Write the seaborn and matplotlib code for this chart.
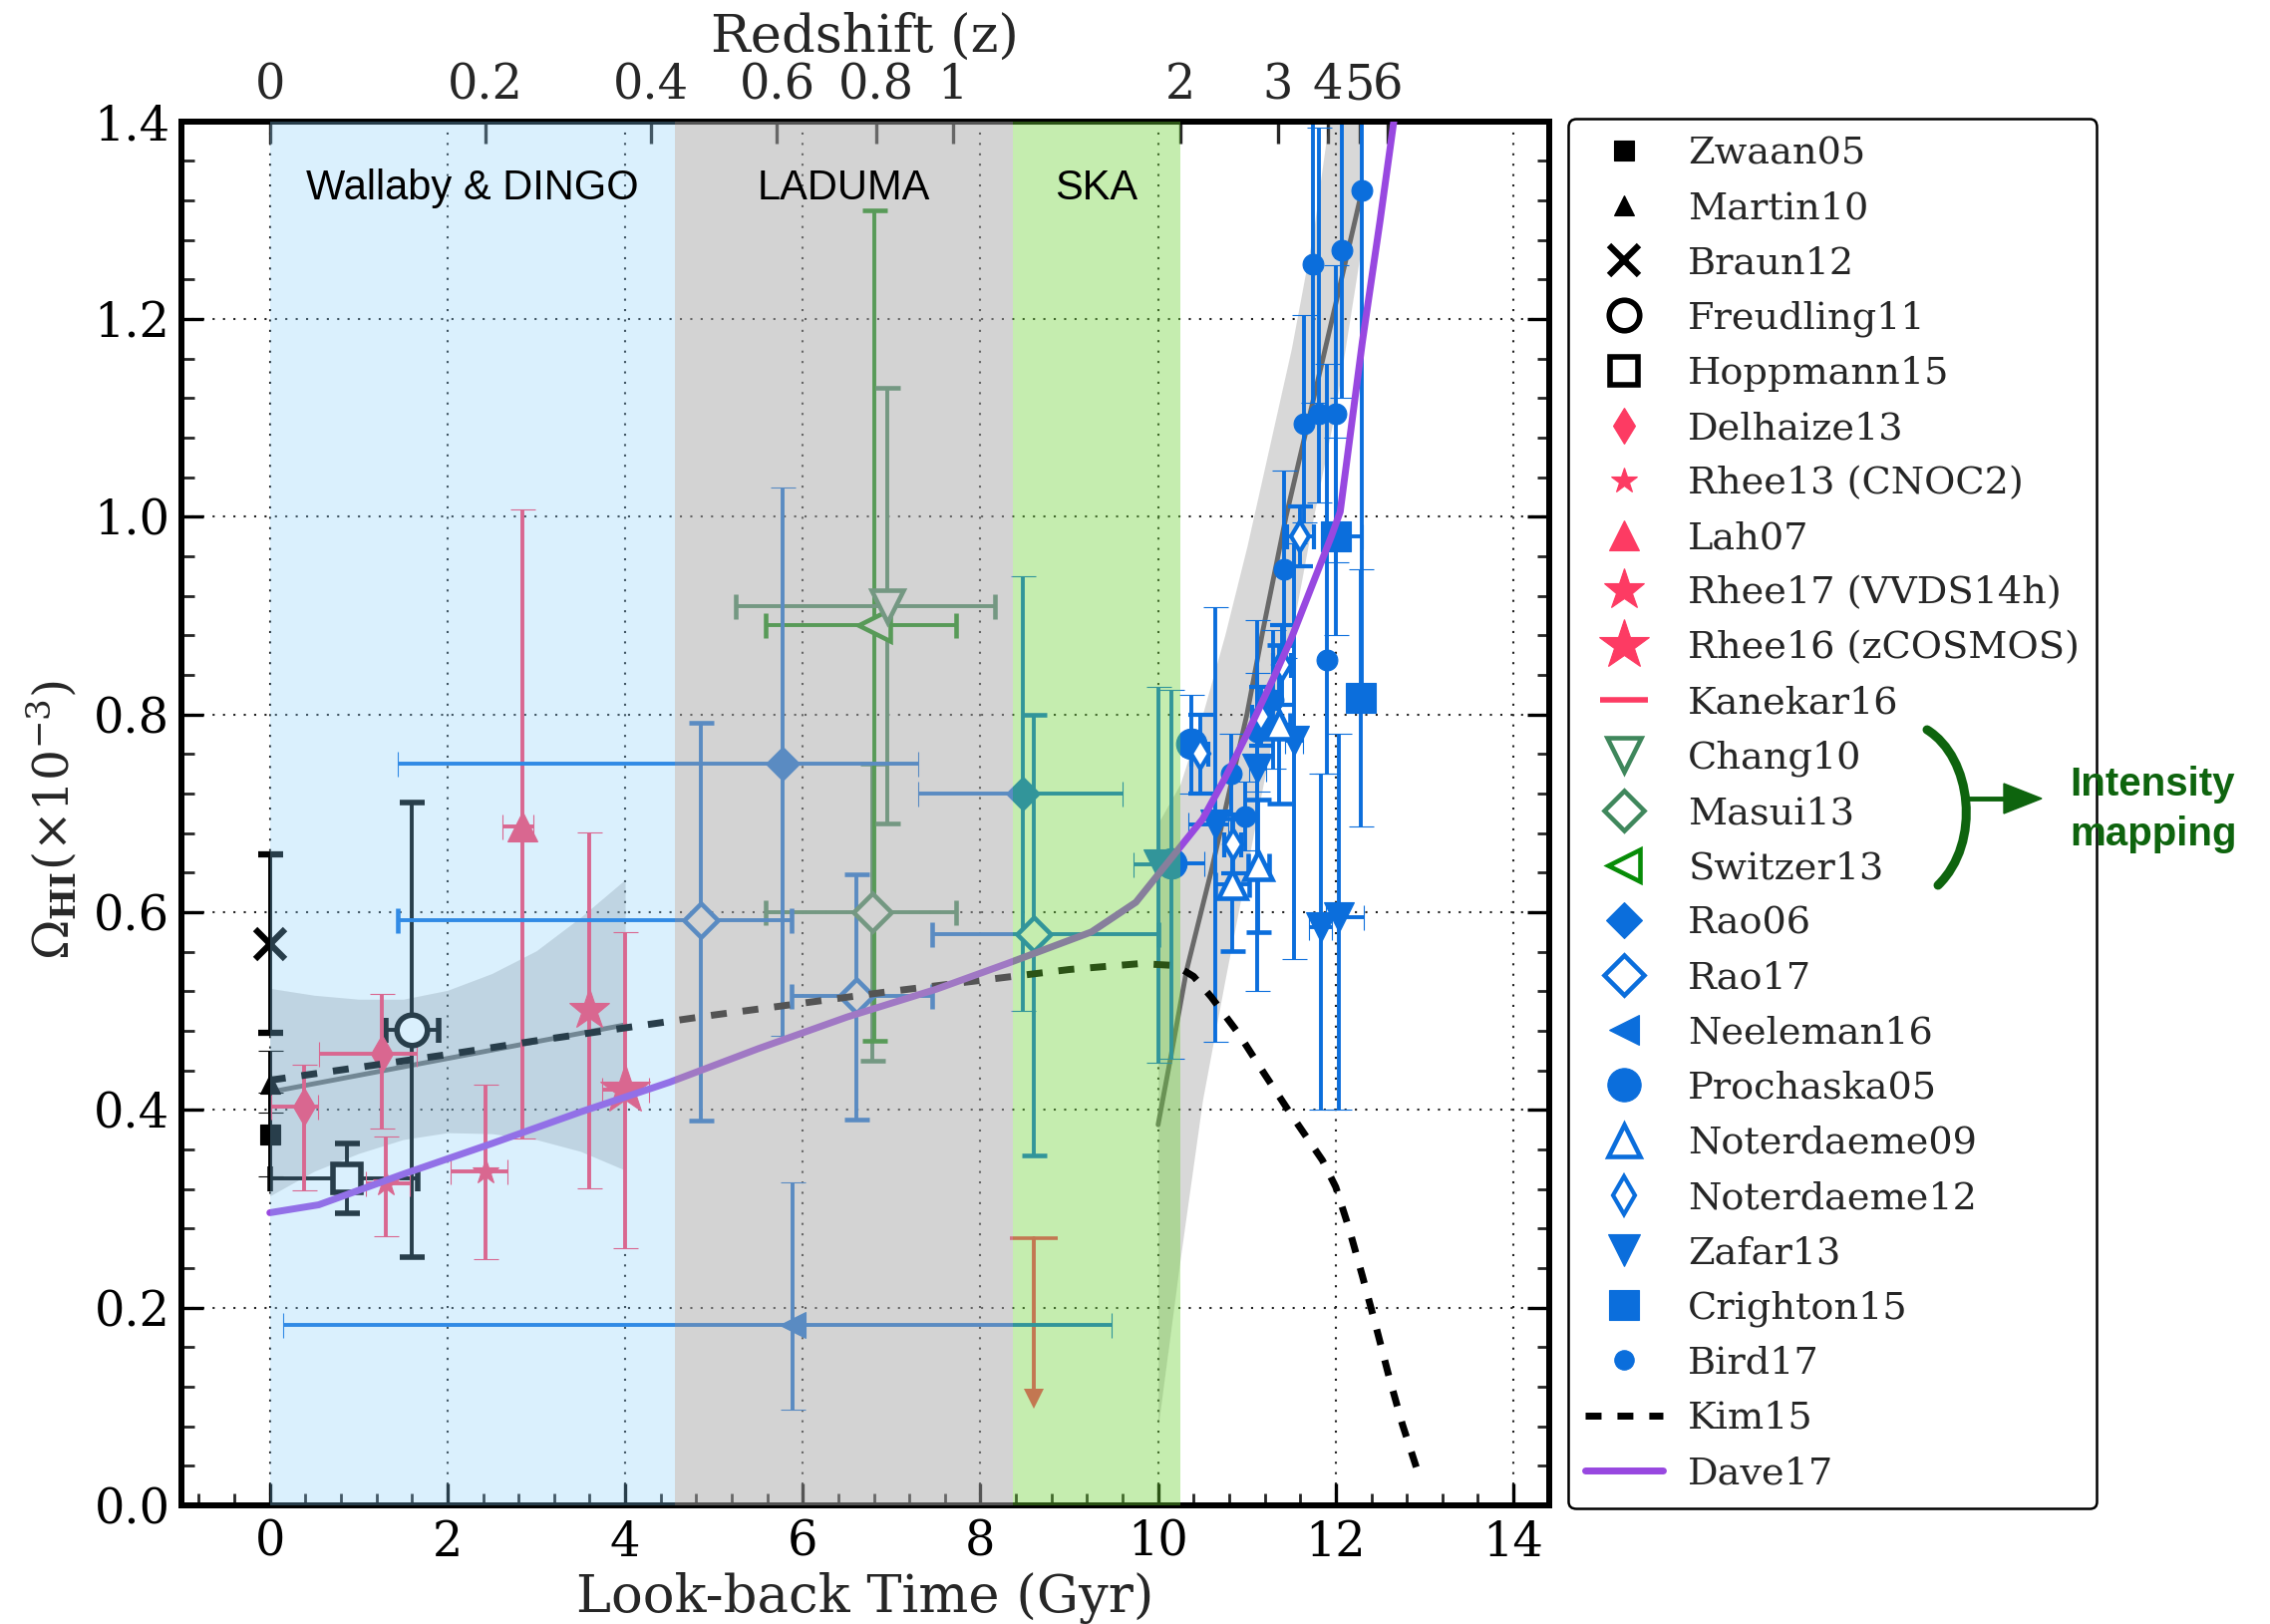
import numpy as np
import pandas as pd
import matplotlib
matplotlib.use("Agg")
import matplotlib.pyplot as plt
import seaborn as sns
from matplotlib.lines import Line2D
from matplotlib.path import Path
from matplotlib.patches import PathPatch, Polygon
from matplotlib.ticker import MultipleLocator, FixedLocator, FixedFormatter, NullLocator, FormatStrFormatter

# ---------------- data (look-back time in Gyr, Omega_HI in 1e-3) ----------------
z_tick_labels = ['0', '0.2', '0.4', '0.6', '0.8', '1', '2', '3', '4', '5', '6']
z_tick_gyr = [0.0, 2.43, 4.29, 5.71, 6.83, 7.69, 10.245, 11.35, 11.91, 12.27, 12.58]

survey_labels = ['Wallaby & DINGO', 'LADUMA', 'SKA']
survey_lo = [0.0, 4.56, 8.365]
survey_hi = [4.56, 8.365, 10.245]

zwaan05_x = [0.0]; zwaan05_y = [0.375]; zwaan05_ylo = [0.042]; zwaan05_yhi = [0.042]
martin10_x = [0.0]; martin10_y = [0.427]; martin10_ylo = [0.03]; martin10_yhi = [0.033]
braun12_x = [0.0]; braun12_y = [0.568]; braun12_ylo = [0.09]; braun12_yhi = [0.09]
freudling11_x = [1.6]; freudling11_y = [0.481]; freudling11_ylo = [0.23]; freudling11_yhi = [0.23]
freudling11_xlo = [0.3]; freudling11_xhi = [0.3]
hoppmann15_x = [0.87]; hoppmann15_y = [0.331]; hoppmann15_ylo = [0.036]; hoppmann15_yhi = [0.035]
hoppmann15_xlo = [0.87]; hoppmann15_xhi = [0.8]
delhaize13_x = [0.385, 1.264]; delhaize13_y = [0.403, 0.457]
delhaize13_ylo = [0.084, 0.076]; delhaize13_yhi = [0.043, 0.06]
delhaize13_xlo = [0.375, 0.71]; delhaize13_xhi = [0.155, 0.39]
rhee13_x = [1.30, 2.43]; rhee13_y = [0.326, 0.338]
rhee13_ylo = [0.054, 0.089]; rhee13_yhi = [0.047, 0.088]
rhee13_xlo = [0.22, 0.39]; rhee13_xhi = [0.28, 0.25]
lah07_x = [2.84]; lah07_y = [0.687]; lah07_ylo = [0.316]; lah07_yhi = [0.32]
lah07_xlo = [0.22]; lah07_xhi = [0.13]
rhee17_x = [3.6]; rhee17_y = [0.501]; rhee17_ylo = [0.18]; rhee17_yhi = [0.18]
rhee16_x = [4.0]; rhee16_y = [0.42]; rhee16_ylo = [0.16]; rhee16_yhi = [0.16]
rhee16_xlo = [0.26]; rhee16_xhi = [0.27]
kanekar16_x = [8.6]; kanekar16_ylim = [0.27]; kanekar16_yarrow = [0.10]

chang10_x = [6.95]; chang10_y = [0.91]; chang10_ylo = [0.22]; chang10_yhi = [0.22]
chang10_xlo = [1.7]; chang10_xhi = [1.21]
masui13_x = [6.78]; masui13_y = [0.60]; masui13_ylo = [0.15]; masui13_yhi = [0.15]
masui13_xlo = [1.2]; masui13_xhi = [0.94]
switzer13_x = [6.8]; switzer13_y = [0.89]; switzer13_ylo = [0.42]; switzer13_yhi = [0.42]
switzer13_xlo = [1.22]; switzer13_xhi = [0.92]

rao06_x = [5.77, 8.48]; rao06_y = [0.75, 0.72]
rao06_ylo = [0.275, 0.22]; rao06_yhi = [0.28, 0.22]
rao06_xlo = [4.33, 1.18]; rao06_xhi = [1.53, 1.12]
rao17_x = [4.85, 6.6, 8.6]; rao17_y = [0.592, 0.515, 0.578]
rao17_ylo = [0.203, 0.125, 0.224]; rao17_yhi = [0.2, 0.123, 0.222]
rao17_xlo = [3.41, 0.73, 1.14]; rao17_xhi = [1.02, 0.86, 1.4]
neeleman16_x = [5.89]; neeleman16_y = [0.183]; neeleman16_ylo = [0.086]; neeleman16_yhi = [0.144]
neeleman16_xlo = [5.74]; neeleman16_xhi = [3.59]

prochaska05_x = [10.15, 10.37]; prochaska05_y = [0.649, 0.77]
prochaska05_ylo = [0.197, 0.05]; prochaska05_yhi = [0.176, 0.05]
prochaska05_xlo = [0.15, 0.1]; prochaska05_xhi = [0.37, 0.1]
noterdaeme09_x = [10.83, 11.13, 11.36]; noterdaeme09_y = [0.628, 0.647, 0.79]
noterdaeme09_ylo = [0.067, 0.067, 0.08]; noterdaeme09_yhi = [0.067, 0.067, 0.08]
noterdaeme09_xlo = [0.19, 0.12, 0.12]; noterdaeme09_xhi = [0.19, 0.12, 0.12]
noterdaeme12_x = [10.47, 10.84, 11.16, 11.4, 11.6]; noterdaeme12_y = [0.76, 0.669, 0.798, 0.85, 0.98]
noterdaeme12_ylo = [0.04, 0.03, 0.03, 0.04, 0.03]; noterdaeme12_yhi = [0.04, 0.03, 0.03, 0.04, 0.03]
noterdaeme12_xlo = [0.1, 0.1, 0.1, 0.1, 0.15]; noterdaeme12_xhi = [0.1, 0.1, 0.1, 0.1, 0.15]
zafar13_x = [10.0, 10.64, 11.12, 11.53, 11.83, 12.04]
zafar13_y = [0.648, 0.689, 0.745, 0.773, 0.585, 0.595]
zafar13_ylo = [0.2, 0.22, 0.225, 0.22, 0.185, 0.195]
zafar13_yhi = [0.18, 0.22, 0.15, 0.2, 0.155, 0.185]
zafar13_xlo = [0.28, 0.3, 0.1, 0.1, 0.13, 0.15]
zafar13_xhi = [0.15, 0.15, 0.1, 0.1, 0.13, 0.28]
crighton15_x = [12.0, 12.28]; crighton15_y = [0.98, 0.817]
crighton15_ylo = [0.1, 0.13]; crighton15_yhi = [0.1, 0.13]
crighton15_xlo = [0.05, 0.05]; crighton15_xhi = [0.3, 0.05]
bird17_x = [10.82, 10.98, 11.12, 11.29, 11.42, 11.64, 11.81, 12.0, 11.74, 12.07, 12.29, 11.9]
bird17_y = [0.74, 0.697, 0.782, 0.815, 0.947, 1.094, 1.104, 1.104, 1.255, 1.27, 1.33, 0.855]
bird17_ylo = [0.04, 0.035, 0.06, 0.07, 0.09, 0.10, 0.09, 0.15, 0.14, 0.15, 0.51, 0.115]
bird17_yhi = [0.04, 0.035, 0.06, 0.07, 0.10, 0.11, 0.29, 0.15, 0.2, 0.25, 0.2, 0.3]

kim15_x = [0.0, 1.0, 2.0, 3.0, 4.0, 5.0, 6.0, 7.0, 8.0, 9.0, 9.8, 10.2, 10.4, 10.6, 10.9, 11.2,
           11.5, 11.85, 12.0, 12.15, 12.3, 12.45, 12.6, 12.75, 12.92]
kim15_y = [0.430, 0.443, 0.456, 0.470, 0.483, 0.496, 0.508, 0.520, 0.531, 0.542, 0.548, 0.546,
           0.535, 0.514, 0.478, 0.436, 0.395, 0.349, 0.322, 0.28, 0.232, 0.182, 0.130, 0.082, 0.035]
dave17_x = [0.0, 0.55, 1.5, 2.5, 3.5, 4.5, 5.5, 6.5, 7.5, 8.3, 9.25, 9.75, 10.25, 10.5, 10.75,
            11.0, 11.3, 11.5, 11.95, 12.05, 12.3, 12.5, 12.7]
dave17_y = [0.296, 0.304, 0.335, 0.366, 0.398, 0.428, 0.462, 0.494, 0.522, 0.548, 0.58, 0.61,
            0.666, 0.694, 0.735, 0.78, 0.837, 0.877, 0.98, 1.005, 1.177, 1.30, 1.43]

fitL_x = [0.0, 0.5, 1.0, 1.5, 2.0, 2.5, 3.0, 3.5, 4.0]
fitL_y = [0.418, 0.4265, 0.435, 0.4435, 0.452, 0.4605, 0.469, 0.4775, 0.486]
fitL_lo = [0.313, 0.338, 0.356, 0.370, 0.377, 0.376, 0.370, 0.358, 0.339]
fitL_hi = [0.523, 0.516, 0.512, 0.512, 0.521, 0.538, 0.561, 0.595, 0.633]
fitR_x = [10.0, 10.15, 10.32, 10.6, 11.0, 11.18, 11.44, 11.96, 12.27]
fitR_y = [0.385, 0.457, 0.541, 0.642, 0.80, 0.885, 1.0, 1.2, 1.32]
fitR_bx = [10.0, 10.25, 10.5, 10.75, 11.0, 11.25, 11.5, 11.75, 12.0, 12.3]
fitR_lo = [0.08, 0.25, 0.41, 0.53, 0.645, 0.76, 0.88, 1.0, 1.11, 1.28]
fitR_hi = [0.69, 0.73, 0.80, 0.88, 0.97, 1.07, 1.17, 1.29, 1.45, 1.65]

# ---------------- style ----------------
sns.set_theme(style='ticks')
plt.rcParams['font.family'] = ['DejaVu Serif']
plt.rcParams['mathtext.fontset'] = 'dejavuserif'

PINK = '#fd3b63'
BLUE = '#0b6edc'
SEAG = '#3f875c'
SWG = '#078c07'
PURPLE = '#9848e0'
DKG = '#0e640e'

W, H = 2277, 1629
fig = plt.figure(figsize=(W / 100, H / 100), dpi=100)
ax = fig.add_axes([181.6 / W, 1 - 1510 / H, (1553.7 - 181.6) / W, (1510 - 121.6) / H])
ax2 = ax.twiny()
ax.set_zorder(1)
ax2.set_zorder(0)
ax.patch.set_visible(False)

ax.set_xlim(-1, 14.4)
ax.set_ylim(0, 1.4)
ax2.set_xlim(-1, 14.4)


def draw(x, y, ylo, yhi, xlo=None, xhi=None, marker='o', color='k', ms=12,
         hollow=False, mew=None, elw=2.8, z=2.2):
    xerr = [xlo, xhi] if xlo is not None else None
    yerr = [ylo, yhi] if ylo is not None else None
    if mew is None:
        mew = 3.3 if hollow else 0.8
    ax.errorbar(x, y, yerr=yerr, xerr=xerr, fmt=marker, ms=ms, color=color,
                mfc='white' if hollow else color, mec=color, mew=mew,
                elinewidth=elw, capsize=9, capthick=2.2, zorder=z, ls='none')


# bands and fits
ax.fill_between(fitL_x, fitL_lo, fitL_hi, color='gray', alpha=0.3, lw=0, zorder=1.2)
ax.fill_between(fitR_bx, fitR_lo, fitR_hi, color='gray', alpha=0.3, lw=0, zorder=1.2)
sns.lineplot(x=fitL_x, y=fitL_y, ax=ax, color='dimgray', lw=3.5, sort=False, estimator=None, zorder=1.5)
sns.lineplot(x=fitR_x, y=fitR_y, ax=ax, color='dimgray', lw=3.5, sort=False, estimator=None, zorder=1.5)

# local black group
draw(braun12_x, braun12_y, braun12_ylo, braun12_yhi, marker='x', color='black', ms=21, mew=4.5)
draw(zwaan05_x, zwaan05_y, zwaan05_ylo, zwaan05_yhi, marker='s', color='black', ms=14)
draw(martin10_x, martin10_y, martin10_ylo, martin10_yhi, marker='^', color='black', ms=14.5)
draw(freudling11_x, freudling11_y, freudling11_ylo, freudling11_yhi, freudling11_xlo, freudling11_xhi,
     marker='o', color='black', ms=22, hollow=True, mew=4)
draw(hoppmann15_x, hoppmann15_y, hoppmann15_ylo, hoppmann15_yhi, hoppmann15_xlo, hoppmann15_xhi,
     marker='s', color='black', ms=20, hollow=True, mew=4)
# pink group
draw(delhaize13_x, delhaize13_y, delhaize13_ylo, delhaize13_yhi, delhaize13_xlo, delhaize13_xhi,
     marker='d', color=PINK, ms=19)
draw(rhee13_x, rhee13_y, rhee13_ylo, rhee13_yhi, rhee13_xlo, rhee13_xhi, marker='*', color=PINK, ms=19)
draw(lah07_x, lah07_y, lah07_ylo, lah07_yhi, lah07_xlo, lah07_xhi, marker='^', color=PINK, ms=22)
draw(rhee17_x, rhee17_y, rhee17_ylo, rhee17_yhi, marker='*', color=PINK, ms=31)
draw(rhee16_x, rhee16_y, rhee16_ylo, rhee16_yhi, rhee16_xlo, rhee16_xhi, marker='*', color=PINK, ms=38)
# Kanekar16 upper limit
ax.plot([kanekar16_x[0], kanekar16_x[0]], [kanekar16_ylim[0], kanekar16_yarrow[0] + 0.012],
        color=PINK, lw=2.8, zorder=2.2)
ax.plot(kanekar16_x, kanekar16_ylim, marker='_', ms=35, mew=2.6, color=PINK, ls='none', zorder=2.2)
ax.plot(kanekar16_x, [kanekar16_yarrow[0] + 0.008], marker='v', ms=15, color=PINK, mew=0,
        ls='none', zorder=2.2)
# intensity mapping
draw(masui13_x, masui13_y, masui13_ylo, masui13_yhi, masui13_xlo, masui13_xhi,
     marker='D', color=SEAG, ms=19, hollow=True)
draw(switzer13_x, switzer13_y, switzer13_ylo, switzer13_yhi, switzer13_xlo, switzer13_xhi,
     marker='<', color=SWG, ms=23, hollow=True)
draw(chang10_x, chang10_y, chang10_ylo, chang10_yhi, chang10_xlo, chang10_xhi,
     marker='v', color=SEAG, ms=23, hollow=True)
# blue absorbers
draw(rao17_x, rao17_y, rao17_ylo, rao17_yhi, rao17_xlo, rao17_xhi, marker='D', color=BLUE, ms=17, hollow=True)
draw(rao06_x, rao06_y, rao06_ylo, rao06_yhi, rao06_xlo, rao06_xhi, marker='D', color=BLUE, ms=17)
draw(neeleman16_x, neeleman16_y, neeleman16_ylo, neeleman16_yhi, neeleman16_xlo, neeleman16_xhi,
     marker='<', color=BLUE, ms=19)
draw(zafar13_x, zafar13_y, zafar13_ylo, zafar13_yhi, zafar13_xlo, zafar13_xhi, marker='v', color=BLUE, ms=21)
draw(bird17_x, bird17_y, bird17_ylo, bird17_yhi, marker='o', color=BLUE, ms=15)
draw(prochaska05_x, prochaska05_y, prochaska05_ylo, prochaska05_yhi, prochaska05_xlo, prochaska05_xhi,
     marker='o', color=BLUE, ms=22)
draw(noterdaeme09_x, noterdaeme09_y, noterdaeme09_ylo, noterdaeme09_yhi, noterdaeme09_xlo, noterdaeme09_xhi,
     marker='^', color=BLUE, ms=20, hollow=True)
draw(noterdaeme12_x, noterdaeme12_y, noterdaeme12_ylo, noterdaeme12_yhi, noterdaeme12_xlo, noterdaeme12_xhi,
     marker='d', color=BLUE, ms=15, hollow=True, mew=3)
draw(crighton15_x, crighton15_y, crighton15_ylo, crighton15_yhi, crighton15_xlo, crighton15_xhi,
     marker='s', color=BLUE, ms=21)

# models
sns.lineplot(x=kim15_x, y=kim15_y, ax=ax, color='black', lw=5, sort=False, estimator=None, zorder=2.6)
ax.lines[-1].set_dashes([2.3, 2.3])
sns.lineplot(x=dave17_x, y=dave17_y, ax=ax, color=PURPLE, lw=5, sort=False, estimator=None, zorder=2.6)

# survey regions (semi-transparent, drawn over the data)
span_colors = ['#87cefa', '#a9a9a9', '#6ed237']
span_alphas = [0.3, 0.5, 0.4]
for lo, hi, c, a, lab in zip(survey_lo, survey_hi, span_colors, span_alphas, survey_labels):
    ax.axvspan(lo, hi, color=c, alpha=a, lw=0, zorder=3)
    ax.text((lo + hi) / 2, 1.332, lab, ha='center', va='center', fontsize=30,
            family=['Liberation Sans', 'DejaVu Sans'], color='black', zorder=6)

# grid, ticks, spines
ax.set_xticks(np.arange(0, 15, 2))
ax.xaxis.set_minor_locator(MultipleLocator(0.4))
ax.yaxis.set_major_locator(MultipleLocator(0.2))
ax.yaxis.set_minor_locator(MultipleLocator(0.04))
ax.yaxis.set_major_formatter(FormatStrFormatter('%.1f'))
ax.grid(True, which='major', color='#222222', lw=1.5, ls=(0, (1, 4)))
ax.tick_params(axis='both', which='major', direction='in', length=16, width=2.4, labelsize=34.5,
               colors='black')
ax.tick_params(axis='both', which='minor', direction='in', length=9, width=2.0)
ax.tick_params(axis='x', which='both', top=False, bottom=True, pad=10)
ax.tick_params(axis='y', which='both', left=True, right=True, pad=8)
for sp in ax.spines.values():
    sp.set_linewidth(4.3)
    sp.set_color('black')

ax2.xaxis.set_major_locator(FixedLocator(z_tick_gyr))
ax2.xaxis.set_major_formatter(FixedFormatter(z_tick_labels))
ax2.xaxis.set_minor_locator(NullLocator())
ax2.tick_params(axis='x', which='major', direction='in', length=16, width=2.4, labelsize=34.5, pad=9)
for sp in ax2.spines.values():
    sp.set_linewidth(4.3)
ax.set_xlabel('')
ax.set_ylabel('')

cx = (181.6 + 1553.7) / 2 / W
fig.text(cx, 1 - 1617 / H, 'Look-back Time (Gyr)', ha='center', va='baseline', fontsize=38)
fig.text(cx, 1 - 52 / H, 'Redshift (z)', ha='center', va='baseline', fontsize=38)
fig.text(52 / W, 1 - 823 / H, r'$\Omega_{\mathbf{HI}}(\times10^{-3})$', rotation=90,
         ha='center', va='center', fontsize=35)

# legend
def mk(label, marker, color, ms, hollow=False, mew=None):
    if mew is None:
        mew = 3.3 if hollow else 0.8
    return Line2D([], [], ls='none', marker=marker, color=color, ms=ms, mec=color,
                  mfc='white' if hollow else color, mew=mew, label=label)

handles = [
    mk('Zwaan05', 's', 'black', 14),
    mk('Martin10', '^', 'black', 14.5),
    mk('Braun12', 'x', 'black', 21, mew=4.5),
    mk('Freudling11', 'o', 'black', 22, hollow=True, mew=4),
    mk('Hoppmann15', 's', 'black', 20, hollow=True, mew=4),
    mk('Delhaize13', 'd', PINK, 18),
    mk('Rhee13 (CNOC2)', '*', PINK, 19),
    mk('Lah07', '^', PINK, 22),
    mk('Rhee17 (VVDS14h)', '*', PINK, 31),
    mk('Rhee16 (zCOSMOS)', '*', PINK, 38),
    mk('Kanekar16', '_', PINK, 35, mew=4),
    mk('Chang10', 'v', SEAG, 24, hollow=True),
    mk('Masui13', 'D', SEAG, 20, hollow=True),
    mk('Switzer13', '<', SWG, 23, hollow=True),
    mk('Rao06', 'D', BLUE, 18),
    mk('Rao17', 'D', BLUE, 20, hollow=True),
    mk('Neeleman16', '<', BLUE, 21),
    mk('Prochaska05', 'o', BLUE, 24),
    mk('Noterdaeme09', '^', BLUE, 23, hollow=True),
    mk('Noterdaeme12', 'd', BLUE, 19, hollow=True, mew=3),
    mk('Zafar13', 'v', BLUE, 23),
    mk('Crighton15', 's', BLUE, 22),
    mk('Bird17', 'o', BLUE, 14),
    Line2D([], [], color='black', lw=5, dashes=[2.3, 2.3], label='Kim15'),
    Line2D([], [], color=PURPLE, lw=5, label='Dave17'),
]
leg = ax.legend(handles=handles, loc='upper left', bbox_to_anchor=(1573 / W, 1 - 119 / H),
                bbox_transform=fig.transFigure, borderaxespad=0, fontsize=27.5, labelspacing=0.5,
                handlelength=2.05, handletextpad=0.65, borderpad=0.45, frameon=True, fancybox=True,
                edgecolor='black', framealpha=1, facecolor='white')
leg.get_frame().set_linewidth(1.8)

# "Intensity mapping" annotation
def tf(px, py):
    return (px / W, 1 - py / H)

brace = Path([tf(1933, 732), tf(1978, 760), tf(1988, 845), tf(1944, 888)],
             [Path.MOVETO, Path.CURVE4, Path.CURVE4, Path.CURVE4])
fig.add_artist(PathPatch(brace, transform=fig.transFigure, fill=False, lw=6.5, edgecolor=DKG,
                         capstyle='round', zorder=10))
fig.add_artist(Line2D([tf(1972, 801)[0], tf(2016, 801)[0]], [tf(1972, 801)[1], tf(2016, 801)[1]],
                      transform=fig.transFigure, color=DKG, lw=3.5, zorder=10))
fig.add_artist(Polygon([tf(2010, 786), tf(2048, 801), tf(2010, 816)], closed=True,
                       transform=fig.transFigure, facecolor=DKG, edgecolor=DKG, zorder=10))
fig.text(2076 / W, 1 - 812 / H, 'Intensity\nmapping', ha='left', va='center', fontsize=29,
         weight='bold', color=DKG, family=['Liberation Sans', 'DejaVu Sans'], linespacing=1.4,
         zorder=10)

fig.savefig('out.png', dpi=100)
